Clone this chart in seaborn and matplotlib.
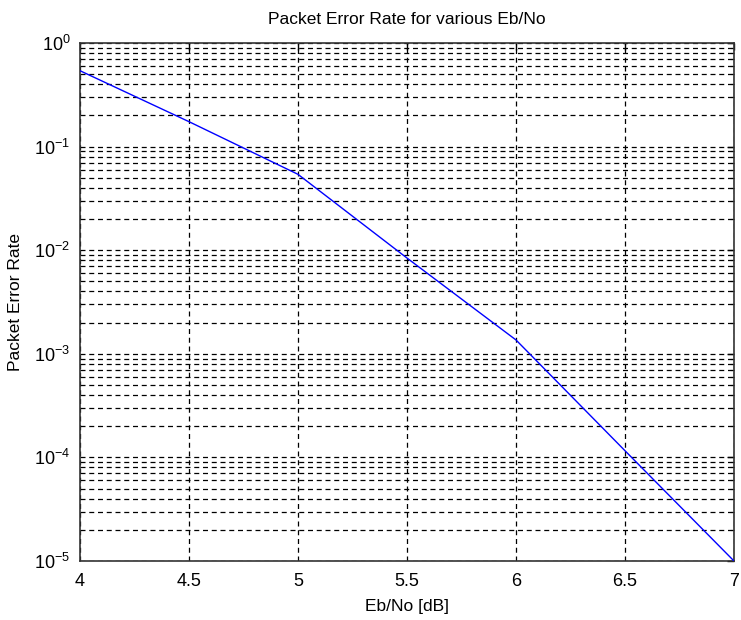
import matplotlib
matplotlib.use("Agg")
import matplotlib.pyplot as plt
import matplotlib.ticker as mticker
import numpy as np
import pandas as pd
import seaborn as sns

# Simulated packet error rate versus Eb/No
ebno_db = [4.0, 4.5, 5.0, 5.5, 6.0, 6.5, 7.0]
per = [0.54, 0.174, 0.054, 0.0084, 0.00136, 0.000116, 0.00001]

x_ticks = [4, 4.5, 5, 5.5, 6, 6.5, 7]
x_tick_labels = ["4", "4.5", "5", "5.5", "6", "6.5", "7"]

sns.set_theme(style="white")
plt.rcParams["font.family"] = ["Liberation Sans", "DejaVu Sans"]
plt.rcParams["mathtext.fontset"] = "custom"
plt.rcParams["mathtext.rm"] = "Liberation Sans"
plt.rcParams["mathtext.it"] = "Liberation Sans"
plt.rcParams["text.color"] = "black"
plt.rcParams["axes.labelcolor"] = "black"

df = pd.DataFrame({"Eb/No [dB]": ebno_db, "Packet Error Rate": per})

fig = plt.figure(figsize=(7.41, 6.20), dpi=100)
ax = fig.add_axes([80 / 741, 1 - 561 / 620, (734 - 80) / 741, (561 - 43) / 620])

sns.lineplot(data=df, x="Eb/No [dB]", y="Packet Error Rate", ax=ax,
             color="#0000ff", linewidth=1.0, zorder=3)

ax.set_yscale("log")
ax.set_xlim(4, 7)
ax.set_ylim(1e-5, 1e0)
ax.set_xticks(x_ticks)
ax.set_xticklabels(x_tick_labels)
ax.yaxis.set_major_locator(mticker.LogLocator(base=10, numticks=10))
ax.yaxis.set_minor_locator(mticker.LogLocator(base=10, subs=np.arange(2, 10), numticks=20))
ax.yaxis.set_major_formatter(mticker.LogFormatterMathtext())
ax.yaxis.set_minor_formatter(mticker.NullFormatter())

grid_kw = dict(color="black", linestyle=(0, (4, 3)), linewidth=0.9)
ax.grid(True, which="major", axis="both", **grid_kw)
ax.grid(True, which="minor", axis="y", **grid_kw)

ax.tick_params(which="both", direction="in", top=True, right=True,
               labelsize=13, colors="black")
ax.tick_params(axis="x", pad=9)
ax.tick_params(axis="y", pad=7)
ax.tick_params(which="major", length=5, width=1)
ax.tick_params(which="minor", length=3, width=0.8)

for s in ax.spines.values():
    s.set_color("#333333")
    s.set_linewidth(1.2)

ax.set_title("Packet Error Rate for various Eb/No", fontsize=12.5, pad=14, color="black")
ax.set_xlabel("Eb/No [dB]", fontsize=12.5, labelpad=6)
ax.set_ylabel("Packet Error Rate", fontsize=12.5, labelpad=8)

fig.savefig("out.png", dpi=100, facecolor="white")
